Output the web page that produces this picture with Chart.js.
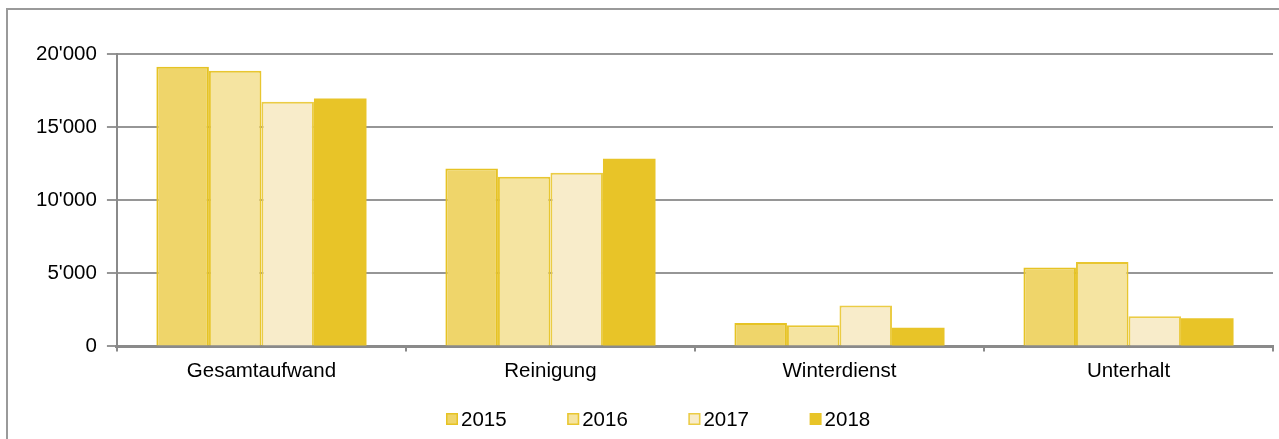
<!DOCTYPE html>
<html><head><meta charset="utf-8">
<script src="https://cdn.jsdelivr.net/npm/chart.js@4"></script>
<style>
html,body{margin:0;padding:0;background:#fff;}
#wrap{position:relative;width:1279px;height:439px;overflow:hidden;}
#frame{position:absolute;left:6px;top:8px;width:1400px;height:600px;border:2px solid #9a9a9a;}
canvas{position:absolute;left:0;top:0;}
</style></head>
<body><div id="wrap"><div id="frame"></div><canvas id="c" width="1279" height="439"></canvas></div>
<script>
const categories = ['Gesamtaufwand','Reinigung','Winterdienst','Unterhalt'];
const years = ['2015','2016','2017','2018'];
const v2015 = [19130, 12170, 1600, 5390];
const v2016 = [18850, 11600, 1440, 5780];
const v2017 = [16730, 11870, 2790, 2060];
const v2018 = [16960, 12830, 1280, 1920];
const yTicks = [0, 5000, 10000, 15000, 20000];

const fills = ['#EFD56A','#F5E4A1','#F8ECCA','#E8C428'];
const borders = ['#E6C324','#E8C630','#EBCC45','#E8C428'];
const series = [v2015, v2016, v2017, v2018];

const FONT = '"Liberation Sans", Arial, sans-serif';
const fmt = v => String(v).replace(/\B(?=(\d{3})+(?!\d))/g, "'");

const legendPlugin = {
  id: 'customLegend',
  afterDraw(chart) {
    const ctx = chart.ctx;
    ctx.save();
    ctx.font = '20.5px ' + FONT;
    ctx.textBaseline = 'middle';
    ctx.textAlign = 'left';
    const startX = 446, step = 121.2, y = 419;
    chart.data.datasets.forEach((ds, i) => {
      const x = startX + i * step;
      ctx.fillStyle = ds.backgroundColor;
      ctx.fillRect(x, y - 6, 12, 12);
      if (ds.borderWidth > 0) {
        ctx.strokeStyle = ds.borderColor;
        ctx.lineWidth = 1.5;
        ctx.strokeRect(x + 0.75, y - 5.25, 10.5, 10.5);
      }
      ctx.fillStyle = '#000';
      ctx.fillText(ds.label, x + 15, y + 1);
    });
    ctx.restore();
  }
};

new Chart(document.getElementById('c'), {
  type: 'bar',
  data: {
    labels: categories,
    datasets: years.map((y, i) => ({
      label: y,
      data: series[i],
      backgroundColor: fills[i],
      borderColor: borders[i],
      borderWidth: i === 3 ? 0 : 2,
      categoryPercentage: 0.727,
      barPercentage: 1.0
    }))
  },
  options: {
    responsive: false,
    animation: false,
    events: [],
    layout: { padding: { left: 26, right: 6, top: 54, bottom: 47 } },
    plugins: { legend: { display: false }, tooltip: { enabled: false } },
    scales: {
      x: {
        grid: { drawOnChartArea: false, drawTicks: true, tickLength: 5, color: '#8a8a8a', lineWidth: 2, offset: true },
        border: { color: '#8a8a8a', width: 3 },
        ticks: { color: '#000', padding: 8, font: { family: FONT, size: 20.5 } }
      },
      y: {
        min: 0, max: 20000,
        afterBuildTicks: s => { s.ticks = yTicks.map(v => ({ value: v })); },
        grid: { color: '#969696', lineWidth: 2, tickLength: 10 },
        border: { color: '#8a8a8a', width: 2 },
        ticks: { color: '#000', padding: 10, callback: v => fmt(v), font: { family: FONT, size: 20.5 } }
      }
    }
  },
  plugins: [legendPlugin]
});
</script></body></html>
